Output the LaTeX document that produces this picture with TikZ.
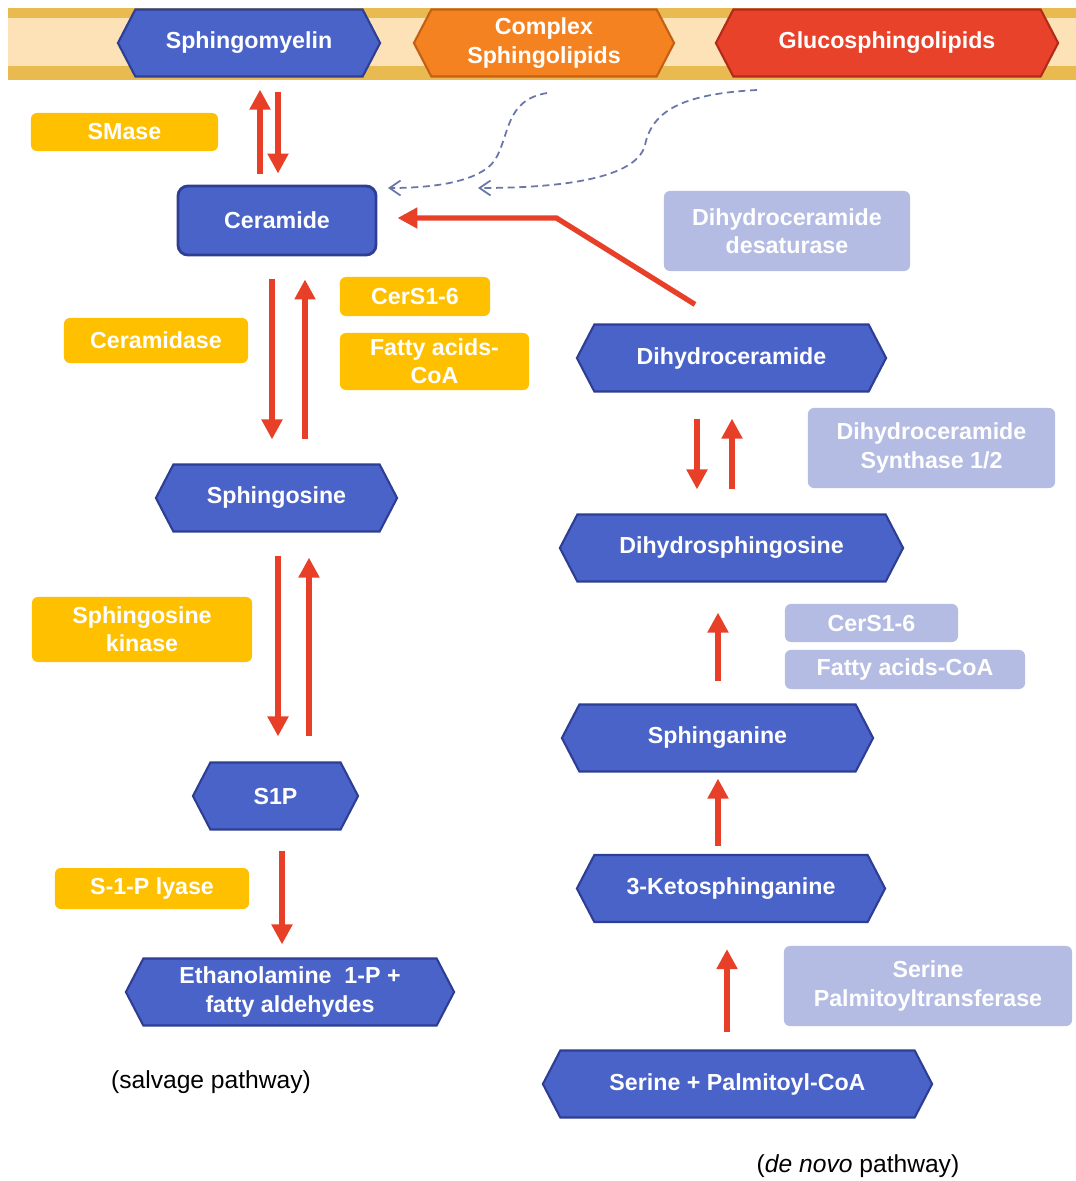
\documentclass[tikz,border=0pt]{standalone}
\usepackage{fontspec}
\setmainfont{Liberation Sans}
\usetikzlibrary{positioning,calc,shapes.symbols,arrows.meta}

\definecolor{lipidblue}{RGB}{74,99,200}
\definecolor{lipidline}{RGB}{46,62,148}
\definecolor{cplxorange}{RGB}{245,130,32}
\definecolor{cplxline}{RGB}{196,96,22}
\definecolor{glucored}{RGB}{232,66,42}
\definecolor{glucoline}{RGB}{178,42,26}
\definecolor{enzgold}{RGB}{255,192,0}
\definecolor{enzlav}{RGB}{180,188,228}
\definecolor{rxnred}{RGB}{232,64,40}
\definecolor{bandgold}{RGB}{232,186,80}
\definecolor{bandcream}{RGB}{252,226,182}
\definecolor{dashblue}{RGB}{105,118,168}

\begin{document}
\begin{tikzpicture}[x=0.01cm, y=-0.01cm,
    font=\fontsize{6.6}{8}\selectfont\bfseries,
    hexa/.style={shape=signal, signal to=west and east, signal pointer angle=125,
                 draw=lipidline, line width=0.6pt, fill=lipidblue, text=white,
                 inner sep=0pt, minimum height=0.67cm, align=center},
    enzyme/.style={rounded corners=0.06cm, fill=enzgold, text=white,
                   inner sep=0pt, align=center},
    lavbox/.style={enzyme, fill=enzlav},
    rarr/.style={draw=rxnred, line width=1.5pt, -{Triangle[width=0.2cm,length=0.2cm]}},
    darr/.style={draw=dashblue, line width=0.5pt, dash pattern=on 2pt off 1.3pt,
                 -{Straight Barb[width=0.15cm,length=0.11cm]}},
    note/.style={font=\fontsize{7}{8}\selectfont, text=black}]
  \useasboundingbox (0,0) rectangle (1076,1181);

  % membrane band
  \fill[bandgold] (8,8) rectangle (1076,80);
  \fill[bandcream] (8,18) rectangle (1076,66);

  % top lipids
  \node[hexa, minimum width=2.62cm] (sm) at (249,43) {Sphingomyelin};
  \node[hexa, minimum width=2.60cm, fill=cplxorange, draw=cplxline] (cplx) at (544,43) {Complex\\Sphingolipids};
  \node[hexa, minimum width=3.42cm, fill=glucored, draw=glucoline] (gluco) at (887,43) {Glucosphingolipids};

  % salvage pathway
  \node[enzyme, minimum width=1.87cm, minimum height=0.38cm] (smase) at (124.5,132) {SMase};
  \node[rectangle, rounded corners=0.1cm, draw=lipidline, line width=0.8pt, fill=lipidblue,
        text=white, minimum width=1.98cm, minimum height=0.69cm] (cer) at (277,220.5) {Ceramide};
  \node[enzyme, minimum width=1.50cm, minimum height=0.39cm] (cers) at (415,296.5) {CerS1-6};
  \node[enzyme, minimum width=1.89cm, minimum height=0.57cm] (fa) at (434.5,361.5) {Fatty acids-\\CoA};
  \node[enzyme, minimum width=1.84cm, minimum height=0.45cm] (cdase) at (156,340.5) {Ceramidase};
  \node[hexa, minimum width=2.41cm] (sph) at (276.5,498) {Sphingosine};
  \node[enzyme, minimum width=2.20cm, minimum height=0.65cm] (sk) at (142,629.5) {Sphingosine\\kinase};
  \node[hexa, minimum width=1.65cm] (s1p) at (275.5,796) {S1P};
  \node[enzyme, minimum width=1.94cm, minimum height=0.41cm] (lyase) at (152,888.5) {S-1-P lyase};
  \node[hexa, minimum width=3.28cm] (eth) at (290,992) {Ethanolamine\ \ 1-P +\\fatty aldehydes};
  \node[note] (salv) at (211,1082) {(salvage pathway)};

  % de novo pathway
  \node[lavbox, minimum width=2.46cm, minimum height=0.80cm] (des) at (787,231) {Dihydroceramide\\desaturase};
  \node[hexa, minimum width=3.09cm] (dhc) at (731.5,358) {Dihydroceramide};
  \node[lavbox, minimum width=2.47cm, minimum height=0.80cm] (dhcs) at (931.5,448) {Dihydroceramide\\Synthase 1/2};
  \node[hexa, minimum width=3.43cm] (dhs) at (731.5,548) {Dihydrosphingosine};
  \node[lavbox, minimum width=1.73cm, minimum height=0.38cm] (cers2) at (871.5,623) {CerS1-6};
  \node[lavbox, minimum width=2.40cm, minimum height=0.39cm] (fa2) at (905,669.5) {Fatty acids-CoA};
  \node[hexa, minimum width=3.11cm] (spa) at (717.5,738) {Sphinganine};
  \node[hexa, minimum width=3.08cm] (keto) at (731,888.5) {3-Ketosphinganine};
  \node[lavbox, minimum width=2.88cm, minimum height=0.80cm] (spt) at (928,986) {Serine\\Palmitoyltransferase};
  \node[hexa, minimum width=3.89cm] (ser) at (737.5,1084) {Serine + Palmitoyl-CoA};
  \node[note] (denovo) at (858,1166) {(\textit{de novo} pathway)};

  % reactions, salvage side
  \draw[rarr] ($(cer.north)+(-17,-11)$) -- ($(sm.south)+(11,12)$);
  \draw[rarr] ($(sm.south)+(29,14)$) -- ($(cer.north)+(1,-11)$);
  \draw[rarr] ($(cer.south)+(-5,23)$) -- ($(sph.north)+(-4.5,-24)$);
  \draw[rarr] ($(sph.north)+(28.5,-24)$) -- ($(cer.south)+(28,23)$);
  \draw[rarr] ($(sph.south)+(1.5,23)$) -- ($(s1p.north)+(2.5,-25)$);
  \draw[rarr] ($(s1p.north)+(33.5,-25)$) -- ($(sph.south)+(32.5,25)$);
  \draw[rarr] ($(s1p.south)+(6.5,20)$) -- ($(eth.north)+(-8,-13)$);

  % reactions, de novo side
  \draw[rarr] ($(dhc.north)+(-36.5,-19)$) -- ($(cer.east)+(179,-2.5)$) -- ($(cer.east)+(20,-2.5)$);
  \draw[rarr] ($(dhc.south)+(-34.5,26)$) -- ($(dhs.north)+(-34.5,-24)$);
  \draw[rarr] ($(dhs.north)+(0.5,-24)$) -- ($(dhc.south)+(0.5,26)$);
  \draw[rarr] ($(spa.north)+(0.5,-22)$) -- ($(dhs.south)+(-13.5,30)$);
  \draw[rarr] ($(keto.north)+(-13,-8)$) -- ($(spa.south)+(0.5,6)$);
  \draw[rarr] ($(ser.north)+(-10.5,-17)$) -- ($(keto.south)+(-4,26)$);

  % dashed routes from the membrane
  \coordinate (cplxout) at (547,93);
  \coordinate (glucout) at (757,90);
  \coordinate (cerin1) at (388,188);
  \coordinate (cerin2) at (478,188);
  \draw[darr] (cplxout) .. controls (505,100) and (510,135) .. (495,160)
                        .. controls (478,184) and (425,188) .. (cerin1);
  \draw[darr] (glucout) .. controls (680,94) and (652,112) .. (645,145)
                        .. controls (636,182) and (545,188) .. (cerin2);
\end{tikzpicture}
\end{document}
